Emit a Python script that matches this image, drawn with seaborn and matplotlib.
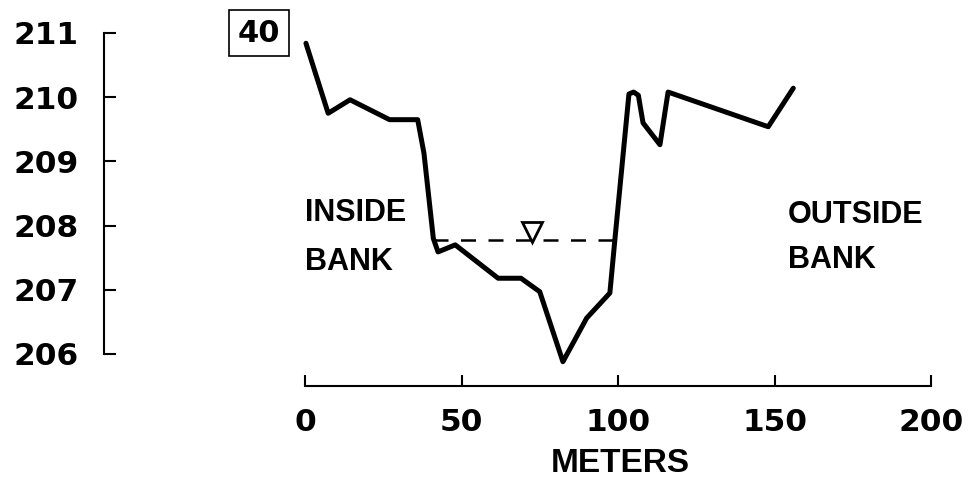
import numpy as np
import pandas as pd
import matplotlib
matplotlib.use("Agg")
import matplotlib.pyplot as plt
import matplotlib.transforms as mtransforms
import seaborn as sns

# Channel cross-section, station 40
distance_m = [0.3, 7.4, 14.4, 27.0, 36.0, 38.0, 41.0, 42.5, 48.0, 61.7, 69.0,
              75.0, 82.4, 90.0, 97.4, 99.0, 103.5, 105.0, 106.5, 108.0, 113.4,
              116.0, 148.0, 156.0]
elevation_m = [210.84, 209.75, 209.96, 209.65, 209.65, 209.13, 207.80, 207.59,
               207.70, 207.18, 207.18, 206.97, 205.88, 206.56, 206.95, 207.78,
               210.05, 210.08, 210.03, 209.60, 209.26, 210.08, 209.54, 210.14]

water_x = [41.0, 99.0]
water_level = 207.78
water_marker_x = 72.5

x_ticks = [0, 50, 100, 150, 200]
y_ticks = [206, 207, 208, 209, 210, 211]
station_label = "40"

profile = pd.DataFrame({"distance": distance_m, "elevation": elevation_m})

sns.set_style("ticks")
plt.rcParams["font.family"] = ["DejaVu Sans"]

W, H = 972, 486
fig = plt.figure(figsize=(W / 100, H / 100), dpi=100)

# axes frame in pixels: left edge carries the detached elevation scale
left_px, right_px, bottom_px, top_px = 104, 950, 386, 20
ax = fig.add_axes([left_px / W, 1 - bottom_px / H,
                   (right_px - left_px) / W, (bottom_px - top_px) / H])

px_per_m_x = 3.13
x0_px = 305
px_per_m_y = 64.2
y211_px = 33
ax.set_xlim((left_px - x0_px) / px_per_m_x, (right_px - x0_px) / px_per_m_x)
ax.set_ylim(211 - (bottom_px - y211_px) / px_per_m_y,
            211 + (y211_px - top_px) / px_per_m_y)

sns.lineplot(data=profile, x="distance", y="elevation", sort=False,
             color="black", linewidth=3.6, ax=ax, solid_joinstyle="round",
             solid_capstyle="round")

# water surface
ax.plot(water_x, [water_level, water_level], color="black", linewidth=1.8,
        dashes=(6.0, 5.0))
offset = mtransforms.ScaledTranslation(0, 8.0 / 100, fig.dpi_scale_trans)
ax.plot([water_marker_x], [water_level], marker="v", markersize=14,
        markerfacecolor="white", markeredgecolor="black", markeredgewidth=2.0,
        linestyle="none", transform=ax.transData + offset, zorder=5)

# axes styling
for side in ("top", "right"):
    ax.spines[side].set_visible(False)
ax.spines["left"].set_bounds(206, 211)
ax.spines["bottom"].set_bounds(0, 200)
for side in ("left", "bottom"):
    ax.spines[side].set_linewidth(1.5)
    ax.spines[side].set_color("black")

ax.set_xticks(x_ticks)
ax.set_yticks(y_ticks)
ax.set_xticklabels([str(v) for v in x_ticks])
ax.set_yticklabels([str(v) for v in y_ticks])
ax.tick_params(axis="y", direction="in", length=8.6, width=1.5, pad=18.5,
               labelsize=22.5, colors="black")
ax.tick_params(axis="x", direction="in", length=8.0, width=1.5, pad=16,
               labelsize=22.5, colors="black")
for lab in ax.get_xticklabels() + ax.get_yticklabels():
    lab.set_fontweight("bold")

word_font = dict(family=["Liberation Sans", "DejaVu Sans"], fontweight="bold",
                 fontsize=22, color="black")
ax.set_xlabel("METERS", fontsize=24, fontweight="bold", color="black",
              family=["Liberation Sans", "DejaVu Sans"], va="center")
ax.xaxis.set_label_coords((620 - left_px) / (right_px - left_px),
                          (bottom_px - 463) / (bottom_px - top_px))
ax.set_ylabel("")

ax.text(0, 208.2, "INSIDE", ha="left", va="center", **word_font)
ax.text(0, 207.43, "BANK", ha="left", va="center", **word_font)
ax.text(154.3, 208.17, "OUTSIDE", ha="left", va="center", **word_font)
ax.text(154.3, 207.46, "BANK", ha="left", va="center", **word_font)

fig.text(259 / W, 1 - 33 / H, station_label, ha="center", va="center",
         fontsize=22, fontweight="bold", color="black",
         bbox=dict(boxstyle="square,pad=0.28", facecolor="white",
                   edgecolor="black", linewidth=1.2))

fig.savefig("out.png", dpi=100, facecolor="white")
